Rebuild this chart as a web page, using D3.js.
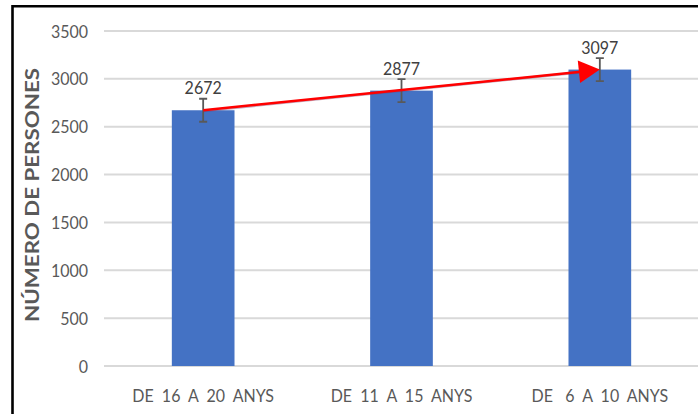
<!DOCTYPE html>
<html>
<head>
<meta charset="utf-8">
<script src="https://cdn.jsdelivr.net/npm/d3@7"></script>
<style>
  body { margin: 0; background: #fff; }
  text { font-family: Lato, "Open Sans", sans-serif; }
</style>
</head>
<body>
<svg id="chart" width="698" height="414"></svg>
<script>
// data
var categories = ["DE  16  A  20  ANYS", "DE  11  A  15  ANYS", "DE   6  A  10  ANYS"];
var values = [2672, 2877, 3097];
var errors = [120, 120, 120];
var yTicks = [0, 500, 1000, 1500, 2000, 2500, 3000, 3500];
var yTitle = "NÚMERO DE PERSONES";

var svg = d3.select("#chart");
var stretch = 1.12; // text in the picture is a bit taller than normal

var xScale = d3.scaleBand()
    .domain(categories)
    .range([104, 699])
    .paddingInner(0.684)
    .paddingOuter(0.342);

var yScale = d3.scaleLinear()
    .domain([0, 3500])
    .range([366, 31]);

var grey = "#595959";

// frame (only left and top edges fall inside the picture)
svg.append("path")
    .attr("d", "M12.5,420V6.2H700")
    .attr("fill", "none")
    .attr("stroke", "#000")
    .attr("stroke-width", 2.6);

// gridlines
svg.append("g").selectAll("line")
    .data(yTicks)
    .enter().append("line")
    .attr("x1", 104)
    .attr("x2", 698)
    .attr("y1", function (d) { return yScale(d); })
    .attr("y2", function (d) { return yScale(d); })
    .attr("stroke", "#d9d9d9")
    .attr("stroke-width", 2);

// y tick labels
svg.append("g").selectAll("text")
    .data(yTicks)
    .enter().append("text")
    .attr("transform", function (d) {
        return "translate(88," + (yScale(d) + 6.5) + ") scale(1," + stretch + ")";
    })
    .attr("text-anchor", "end")
    .attr("font-size", 16)
    .attr("fill", grey)
    .text(function (d) { return d; });

// x labels
svg.append("g").selectAll("text")
    .data(categories)
    .enter().append("text")
    .attr("transform", function (d) {
        return "translate(" + (xScale(d) + xScale.bandwidth() / 2) + ",401.5) scale(1," + stretch + ")";
    })
    .attr("text-anchor", "middle")
    .attr("font-size", 16)
    .attr("fill", grey)
    .style("white-space", "pre")
    .text(function (d) { return d; });

// y title
svg.append("text")
    .attr("transform", "translate(39,195) rotate(-90)")
    .attr("text-anchor", "middle")
    .attr("font-size", 18)
    .attr("font-weight", "bold")
    .attr("fill", grey)
    .attr("textLength", 254)
    .attr("lengthAdjust", "spacingAndGlyphs")
    .text(yTitle);

// bars
svg.append("g").selectAll("rect")
    .data(values)
    .enter().append("rect")
    .attr("x", function (d, i) { return xScale(categories[i]); })
    .attr("y", function (d) { return yScale(d); })
    .attr("width", xScale.bandwidth())
    .attr("height", function (d) { return yScale(0) - yScale(d); })
    .attr("fill", "#4472c4");

// error bars
var errG = svg.append("g")
    .attr("stroke", grey)
    .attr("stroke-width", 1.8)
    .attr("fill", "none");

values.forEach(function (v, i) {
    var cx = xScale(categories[i]) + xScale.bandwidth() / 2;
    var top = yScale(v + errors[i]),
        bottom = yScale(v - errors[i]);
    errG.append("path")
        .attr("d", "M" + cx + "," + top + "V" + bottom +
            "M" + (cx - 4) + "," + top + "H" + (cx + 4) +
            "M" + (cx - 4) + "," + bottom + "H" + (cx + 4));
});

// value labels
svg.append("g").selectAll("text")
    .data(values)
    .enter().append("text")
    .attr("transform", function (d, i) {
        var cx = xScale(categories[i]) + xScale.bandwidth() / 2;
        return "translate(" + cx + "," + (yScale(d + errors[i]) - 4.5) + ") scale(1," + stretch + ")";
    })
    .attr("text-anchor", "middle")
    .attr("font-size", 16)
    .attr("fill", "#404040")
    .text(function (d) { return d; });

// red trend arrow from first to last bar
var last = values.length - 1;
var x1 = xScale(categories[0]) + xScale.bandwidth() / 2,
    y1 = yScale(values[0]),
    x2 = xScale(categories[last]) + xScale.bandwidth() / 2,
    y2 = yScale(values[last]);

var ang = Math.atan2(y2 - y1, x2 - x1);
var headLen = 21, headHalf = 11.3;
var bx = x2 - headLen * Math.cos(ang),
    by = y2 - headLen * Math.sin(ang);

svg.append("line")
    .attr("x1", x1).attr("y1", y1 + 0.8)
    .attr("x2", bx).attr("y2", by + 0.8)
    .attr("stroke", "#7a3d6a")
    .attr("stroke-opacity", 0.45)
    .attr("stroke-width", 2.5);

svg.append("line")
    .attr("x1", x1).attr("y1", y1)
    .attr("x2", bx + 2).attr("y2", by)
    .attr("stroke", "#ff0000")
    .attr("stroke-width", 2.5);

svg.append("path")
    .attr("d", d3.line()([
        [x2, y2],
        [bx - headHalf * Math.sin(ang), by + headHalf * Math.cos(ang)],
        [bx + headHalf * Math.sin(ang), by - headHalf * Math.cos(ang)]
    ]) + "Z")
    .attr("fill", "#ff0000");
</script>
</body>
</html>
